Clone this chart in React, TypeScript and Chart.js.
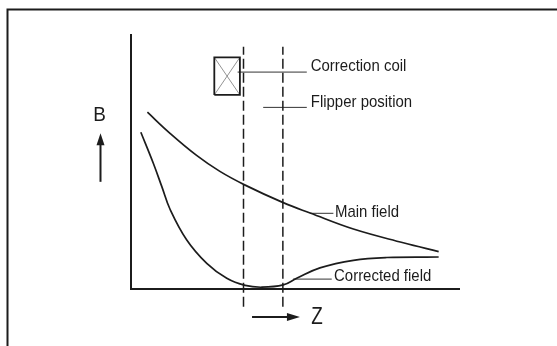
import React, { useEffect, useRef } from "react";
import { Chart, registerables } from "chart.js";

Chart.register(...registerables);

// Field curves (Z in arbitrary units 0..100, B in arbitrary units 0..100)
const mainFieldZ = [5.0, 11.9, 20.0, 27.1, 34.8, 46.4, 54.6, 67.8, 83.0, 93.8];
const mainFieldB = [69.6, 61.3, 52.6, 46.3, 40.9, 34.0, 29.9, 23.6, 18.2, 14.7];
const correctedZ = [3.0, 6.8, 9.4, 11.9, 17.0, 23.1, 29.2, 34.8, 39.9, 46.4, 50.5, 57.6, 67.8, 78.0, 93.8];
const correctedB = [61.7, 49.5, 40.3, 31.4, 19.3, 10.1, 4.2, 1.4, 0.7, 1.6, 4.2, 8.3, 11.3, 12.4, 12.6];

// Flipper position (dashed verticals) and correction coil box
const flipperZ = [34.3, 46.3];
const flipperB = [-7, 95.4];
const coilZ = [25.4, 33.2];
const coilB = [76.4, 91.2];

// Annotations
const labelTexts = ["Correction coil", "Flipper position", "Main field", "Corrected field"];
const labelZ = [54.8, 54.8, 62.2, 61.9];
const labelB = [87.8, 73.6, 30.3, 4.9];
const leaderZStart = [32.5, 40.3, 54.6, 49.4];
const leaderZEnd = [53.6, 53.6, 61.7, 61.2];
const leaderB = [85.4, 71.5, 29.8, 3.9];

const axisNames = ["B", "Z"];
const bArrowZ = -9.3;
const bArrowB = [42.2, 61.3];
const zArrowB = -11.0;
const zArrowZ = [36.9, 51.5];
const bNamePos = [-9.6, 68.3];
const zNamePos = [56.7, -11.4];

const INK = "#1c1c1c";

function pts(xs: number[], ys: number[]) {
  return xs.map((x, i) => ({ x, y: ys[i] }));
}

export default function App() {
  const ref = useRef<HTMLCanvasElement | null>(null);

  useEffect(() => {
    const canvas = ref.current;
    if (!canvas) return;

    const lineDs = (data: any[], extra: any = {}) => ({
      data,
      showLine: true,
      borderColor: INK,
      backgroundColor: INK,
      borderWidth: 1.6,
      pointRadius: 0,
      pointHoverRadius: 0,
      tension: 0,
      clip: false as any,
      ...extra,
    });

    const datasets: any[] = [
      lineDs(pts(mainFieldZ, mainFieldB), { tension: 0.4, borderWidth: 1.7 }),
      lineDs(pts(correctedZ, correctedB), { tension: 0.4, borderWidth: 1.7 }),
      ...flipperZ.map((z) =>
        lineDs([{ x: z, y: flipperB[0] }, { x: z, y: flipperB[1] }], { borderDash: [10, 4], borderWidth: 1.5 })
      ),
      lineDs(
        [
          { x: coilZ[0], y: coilB[0] },
          { x: coilZ[0], y: coilB[1] },
          { x: coilZ[1], y: coilB[1] },
          { x: coilZ[1], y: coilB[0] },
          { x: coilZ[0], y: coilB[0] },
        ],
        { borderWidth: 1.8 }
      ),
      lineDs([{ x: coilZ[0], y: coilB[0] }, { x: coilZ[1], y: coilB[1] }], { borderWidth: 0.8, borderColor: "#777" }),
      lineDs([{ x: coilZ[0], y: coilB[1] }, { x: coilZ[1], y: coilB[0] }], { borderWidth: 0.8, borderColor: "#777" }),
      ...leaderB.map((b, i) =>
        lineDs([{ x: leaderZStart[i], y: b }, { x: leaderZEnd[i], y: b }], { borderWidth: 1, borderColor: "#333" })
      ),
      lineDs([{ x: bArrowZ, y: bArrowB[0] }, { x: bArrowZ, y: bArrowB[1] - 3 }], { borderWidth: 2 }),
      lineDs([{ x: zArrowZ[0], y: zArrowB }, { x: zArrowZ[1] - 3, y: zArrowB }], { borderWidth: 2 }),
    ];

    const decor = {
      id: "decor",
      beforeDraw(chart: any) {
        const { ctx, width, height } = chart;
        ctx.save();
        ctx.fillStyle = "#ffffff";
        ctx.fillRect(0, 0, width, height);
        ctx.strokeStyle = INK;
        ctx.lineWidth = 2;
        ctx.beginPath();
        ctx.moveTo(7.5, height + 2);
        ctx.lineTo(7.5, 9.5);
        ctx.lineTo(width + 2, 9.5);
        ctx.stroke();
        ctx.restore();
      },
      afterDatasetsDraw(chart: any) {
        const { ctx } = chart;
        const xs = chart.scales.x;
        const ys = chart.scales.y;
        const X = (v: number) => xs.getPixelForValue(v);
        const Y = (v: number) => ys.getPixelForValue(v);
        ctx.save();
        ctx.fillStyle = INK;
        ctx.textBaseline = "middle";
        ctx.textAlign = "left";
        ctx.font = '17px "Liberation Sans", Arial, sans-serif';
        labelTexts.forEach((t, i) => {
          ctx.save();
          ctx.translate(X(labelZ[i]), Y(labelB[i]));
          ctx.scale(0.88, 1);
          ctx.fillText(t, 0, 0);
          ctx.restore();
        });
        // axis names
        ctx.textAlign = "center";
        ctx.save();
        ctx.font = '21px "Liberation Sans", Arial, sans-serif';
        ctx.translate(X(bNamePos[0]), Y(bNamePos[1]));
        ctx.scale(0.9, 1);
        ctx.fillText(axisNames[0], 0, 0);
        ctx.restore();
        ctx.save();
        ctx.font = '23px "Liberation Sans", Arial, sans-serif';
        ctx.translate(X(zNamePos[0]), Y(zNamePos[1]));
        ctx.scale(0.82, 1);
        ctx.fillText(axisNames[1], 0, 0);
        ctx.restore();
        // arrow heads
        const bx = X(bArrowZ);
        const by = Y(bArrowB[1]);
        ctx.beginPath();
        ctx.moveTo(bx, by);
        ctx.lineTo(bx - 4, by + 12);
        ctx.lineTo(bx + 4, by + 12);
        ctx.closePath();
        ctx.fill();
        const zx = X(zArrowZ[1]);
        const zy = Y(zArrowB);
        ctx.beginPath();
        ctx.moveTo(zx, zy);
        ctx.lineTo(zx - 13, zy - 4);
        ctx.lineTo(zx - 13, zy + 4);
        ctx.closePath();
        ctx.fill();
        ctx.restore();
      },
    };

    const chart = new Chart(canvas, {
      type: "scatter",
      data: { datasets },
      options: {
        animation: false,
        responsive: false,
        events: [],
        layout: { padding: { left: 131, right: 98, top: 35, bottom: 57 } },
        plugins: { legend: { display: false }, tooltip: { enabled: false } },
        scales: {
          x: {
            type: "linear",
            min: 0,
            max: 100,
            ticks: { display: false },
            grid: { display: false, drawTicks: false },
            border: { display: true, color: INK, width: 2 },
          },
          y: {
            type: "linear",
            min: 0,
            max: 100,
            ticks: { display: false },
            grid: { display: false, drawTicks: false },
            border: { display: true, color: INK, width: 2 },
          },
        },
      },
      plugins: [decor],
    });

    return () => chart.destroy();
  }, []);

  return (
    <div style={{ position: "fixed", left: 0, top: 0, width: 557, height: 346, background: "#fff" }}>
      <canvas ref={ref} width={557} height={346} style={{ display: "block", width: 557, height: 346 }} />
    </div>
  );
}
